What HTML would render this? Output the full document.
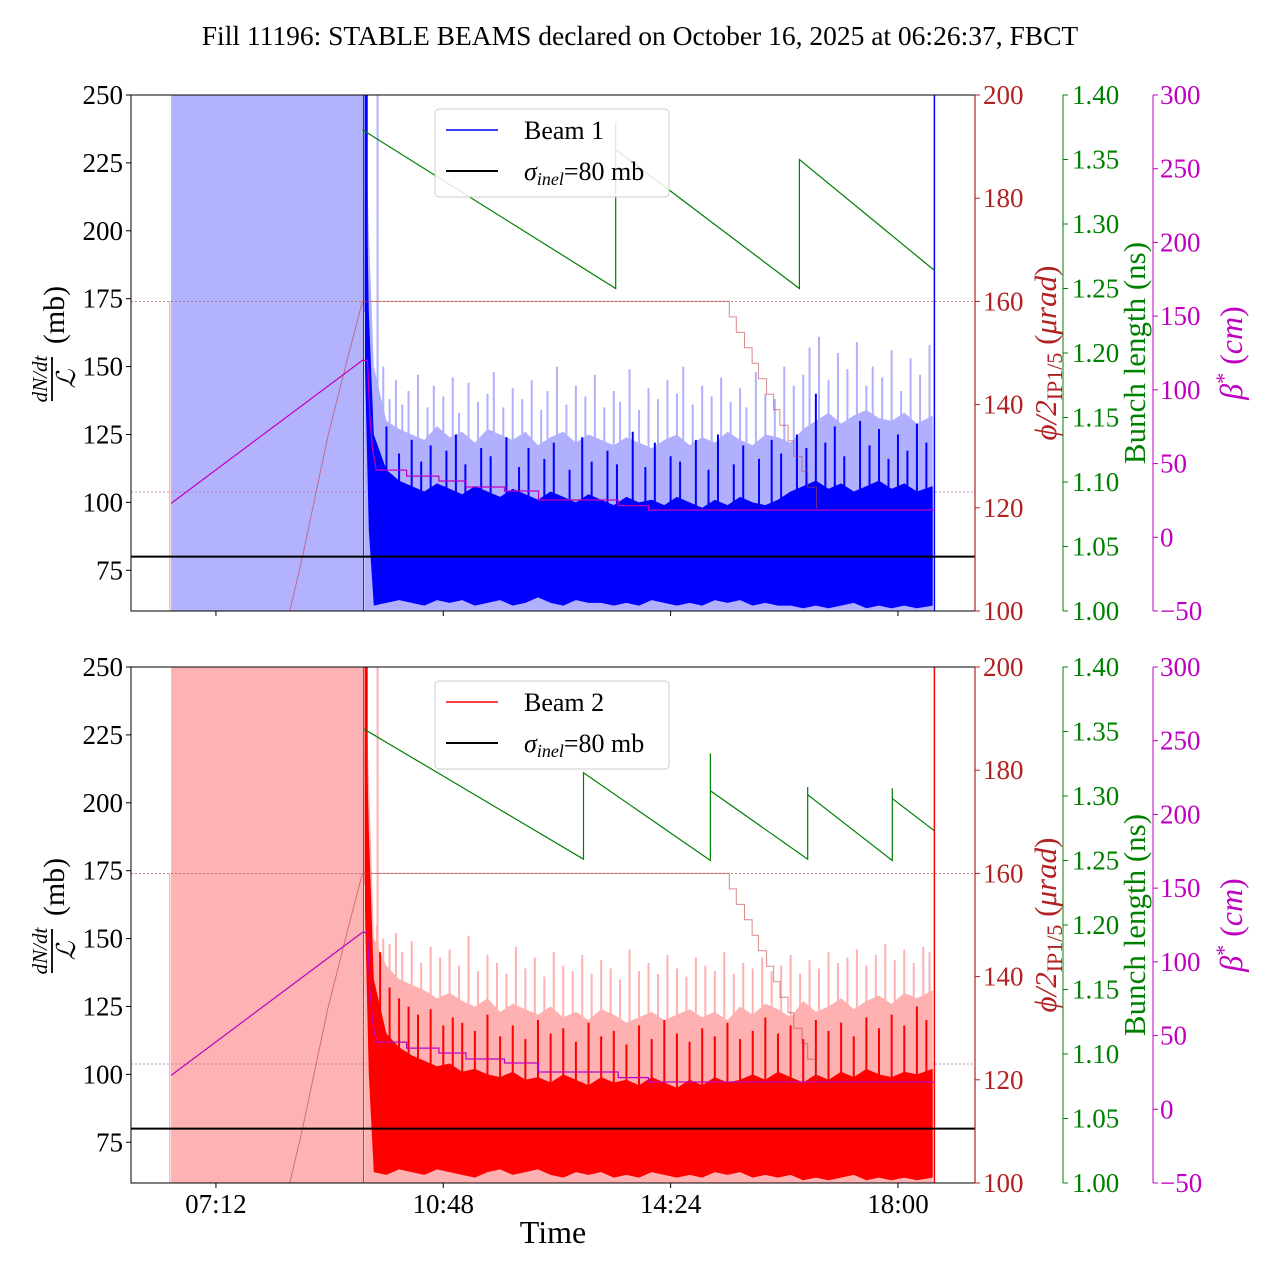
<!DOCTYPE html>
<html><head><meta charset="utf-8">
<style>
html,body{margin:0;padding:0;background:#fff;}
svg{display:block;font-family:"Liberation Serif","DejaVu Serif",serif;}
</style></head>
<body>
<svg id="chart" width="1280" height="1280" viewBox="0 0 1280 1280" xmlns="http://www.w3.org/2000/svg">
<text x="640" y="45" font-size="27.5" text-anchor="middle">Fill 11196: STABLE BEAMS declared on October 16, 2025 at 06:26:37, FBCT</text>
</svg>
<script>
// ---------- data ----------
const tickHours=[7.2,10.8,14.4,18.0];
const tickLabels=['07:12','10:48','14:24','18:00'];
const leftTicks=[75,100,125,150,175,200,225,250];
const redTicks=[100,120,140,160,180,200];
const greenTicks=[1.00,1.05,1.10,1.15,1.20,1.25,1.30,1.35,1.40];
const magTicks=[-50,0,50,100,150,200,250,300];
const shadeStart=6.49, shadeEnd=9.54, beamEnd=18.577, markerT=6.47;
const sigmaInel=[80];
// noise envelopes (mb)
const noiseT=[9.56,9.62,9.7,9.9,10.1,10.3,10.5,10.7,10.9,11.1,11.3,11.5,11.7,11.9,12.1,12.3,12.5,12.7,12.9,13.1,13.3,13.5,13.7,13.9,14.1,14.3,14.5,14.7,14.9,15.1,15.3,15.5,15.7,15.9,16.1,16.3,16.5,16.7,16.9,17.1,17.3,17.5,17.7,17.9,18.1,18.3,18.55];
const b1LightHi=[250,200,150,130,127,125,123,128,124,126,122,127,125,123,126,121,124,126,122,125,123,121,124,122,120,123,125,121,124,122,126,123,121,125,124,122,127,130,133,129,132,134,131,130,133,129,132];
const b1DarkHi=[250,170,125,112,108,106,104,107,105,103,106,104,102,105,103,101,104,102,100,103,101,99,102,100,101,99,102,100,98,101,99,102,100,99,101,104,106,108,105,107,104,106,108,105,107,104,106];
const b1DarkLo=[150,90,62,63,64,63,62,64,63,64,62,63,64,62,63,65,63,62,64,63,63,62,63,62,64,63,62,63,62,64,63,64,62,63,62,62,61,62,61,62,63,61,62,61,62,61,62];
const b1SpikeT=[9.85,9.95,10.05,10.15,10.25,10.4,10.55,10.65,10.8,10.95,11.05,11.2,11.35,11.5,11.6,11.75,11.9,12.05,12.2,12.35,12.45,12.6,12.75,12.9,13.05,13.2,13.35,13.5,13.6,13.75,13.9,14.05,14.2,14.35,14.5,14.6,14.75,14.9,15.05,15.2,15.35,15.5,15.6,15.75,15.9,16.05,16.2,16.35,16.5,16.6,16.75,16.9,17.05,17.2,17.35,17.5,17.6,17.75,17.9,18.05,18.2,18.35,18.5];
const b1SpikeV=[150,138,145,136,141,147,135,143,139,146,133,144,137,140,148,135,142,138,145,134,141,150,136,143,139,147,135,141,137,149,134,142,138,145,140,150,136,143,139,146,137,142,135,148,140,138,150,143,147,157,161,145,155,149,159,143,150,146,156,141,153,147,158];
const b1DSpikeT=[9.9,10.1,10.3,10.45,10.6,10.85,11.0,11.15,11.4,11.55,11.8,12.0,12.15,12.4,12.55,12.8,13.0,13.15,13.4,13.55,13.8,14.0,14.15,14.4,14.55,14.8,15.0,15.15,15.4,15.55,15.8,16.0,16.15,16.4,16.55,16.7,16.85,17.0,17.15,17.4,17.55,17.7,17.85,18.0,18.15,18.3,18.45];
const b1DSpikeV=[128,118,123,115,121,119,125,114,120,117,124,113,120,116,122,112,124,115,119,114,126,113,122,117,115,123,112,125,114,121,116,123,118,125,120,140,122,128,117,130,121,127,116,125,119,129,122];
const b2LightHi=[250,210,150,140,135,133,131,128,130,127,125,128,123,126,124,122,125,121,123,120,124,122,119,121,123,120,122,124,121,123,120,125,122,126,124,121,127,123,125,128,124,127,129,126,130,128,131];
const b2DarkHi=[250,190,135,115,110,107,105,103,104,101,102,100,99,101,98,99,97,100,98,96,99,97,98,96,99,97,95,98,96,99,97,98,100,98,101,99,97,100,98,101,99,102,100,99,101,100,102];
const b2DarkLo=[160,100,64,63,65,64,63,65,64,63,62,64,65,63,64,65,63,62,64,63,64,62,63,62,64,63,62,63,62,64,63,64,62,63,62,63,61,62,61,62,63,61,62,61,62,61,62];
const b2SpikeT=[9.75,9.85,9.95,10.05,10.15,10.3,10.45,10.6,10.75,10.9,11.05,11.2,11.35,11.5,11.65,11.8,11.95,12.1,12.25,12.4,12.55,12.7,12.85,13.0,13.15,13.3,13.45,13.6,13.75,13.9,14.05,14.2,14.35,14.5,14.65,14.8,14.95,15.1,15.25,15.4,15.55,15.7,15.85,16.0,16.15,16.3,16.45,16.6,16.75,16.9,17.05,17.2,17.35,17.5,17.65,17.8,17.95,18.1,18.25,18.4,18.5];
const b2SpikeV=[155,150,148,152,145,149,141,147,143,146,140,151,138,144,141,137,147,139,143,136,145,140,138,144,137,142,139,135,146,138,141,137,144,139,136,143,140,138,145,137,141,139,143,138,140,144,137,142,139,145,141,143,146,140,144,148,142,146,141,147,145];
const b2DSpikeT=[9.8,9.95,10.1,10.25,10.4,10.6,10.8,10.95,11.1,11.3,11.5,11.7,11.9,12.1,12.3,12.5,12.7,12.9,13.1,13.3,13.5,13.7,13.9,14.1,14.3,14.5,14.7,14.9,15.1,15.3,15.5,15.7,15.9,16.1,16.3,16.5,16.7,16.9,17.1,17.3,17.5,17.7,17.9,18.1,18.3,18.45];
const b2DSpikeV=[145,132,128,125,122,124,118,121,119,116,122,114,118,113,120,115,117,112,119,114,116,111,118,113,120,115,112,117,114,119,113,116,121,115,118,113,120,116,119,114,121,117,122,118,125,120];
// phi (urad)
const phiT=[8.37,8.57,8.97,9.29,9.52,15.33,15.33,15.44,15.44,15.57,15.57,15.69,15.69,15.79,15.79,15.92,15.92,16.03,16.03,16.13,16.13,16.26,16.26,16.35,16.35,16.48,16.48,16.57,16.57,16.71,16.71,16.73];
const phiV=[100,110.5,133.7,149.2,160,160,157,157,154,154,151,151,148,148,145,145,142,142,139,139,136,136,133,133,130,130,127,127,124,124,120,120];
// beta* (cm)
const betaT=[6.49,9.52,9.60,9.64,9.68,9.74,9.80,10.22,10.22,10.73,10.73,11.16,11.16,11.77,11.77,12.31,12.31,13.57,13.57,14.05,14.05,18.577];
const betaV=[23,120,120,80,60,45.6,45.6,45.6,41.5,41.5,38.2,38.2,34.1,34.1,31.4,31.4,25.3,25.3,21.5,21.5,18.5,18.5];
// bunch length (ns)
const bl1T=[9.52,13.53,13.53,13.53,13.55,16.44,16.44,18.577];
const bl1V=[1.373,1.250,1.379,1.357,1.357,1.250,1.350,1.264];
const bl2T=[9.54,13.02,13.02,15.03,15.03,15.03,16.57,16.57,16.57,17.91,17.91,17.91,18.577];
const bl2V=[1.352,1.251,1.318,1.250,1.333,1.304,1.251,1.307,1.301,1.250,1.306,1.298,1.273];

// ---------- helpers ----------
const NS='http://www.w3.org/2000/svg';
const svg=document.getElementById('chart');
const X0=131,X1=975,H=516,T0=5.855,PXH=63.15;
function xS(h){return X0+(h-T0)*PXH;}
function mk(tag,attrs,parent){const e=document.createElementNS(NS,tag);for(const k in attrs)e.setAttribute(k,attrs[k]);(parent||svg).appendChild(e);return e;}
function txt(parent,x,y,s,size,fill,anchor,extra){const e=mk('text',Object.assign({x:x,y:y,'font-size':size,fill:fill,'text-anchor':anchor||'start'},extra||{}),parent);e.textContent=s;return e;}
function fmt2(v){return v.toFixed(2);}
function linePath(ts,vs,ys){let d='';const n=Math.min(ts.length,vs.length);for(let i=0;i<n;i++)d+=(i?'L':'M')+xS(ts[i]).toFixed(1)+','+ys(vs[i]).toFixed(1);return d;}
function bandPath(ts,hi,lo,yL){const n=Math.min(ts.length,hi.length,lo.length);let d='';for(let i=0;i<n;i++)d+=(i?'L':'M')+xS(ts[i]).toFixed(1)+','+yL(hi[i]).toFixed(1);for(let i=n-1;i>=0;i--)d+='L'+xS(ts[i]).toFixed(1)+','+yL(lo[i]).toFixed(1);return d+'Z';}

function panel(idx,T,cfg){
  const yL=v=>T+(250-v)/190*H, yR=v=>T+(200-v)/100*H, yG=v=>T+(1.4-v)/0.4*H, yM=v=>T+(300-v)/350*H;
  const g=mk('g',{});
  
  
  const cid='clip'+idx;
  const cp=mk('clipPath',{id:cid},g);mk('rect',{x:X0,y:T,width:X1-X0,height:H},cp);
  const plot=mk('g',{'clip-path':'url(#'+cid+')'},g);
  
  
  const sh=mk('rect',{x:xS(shadeStart),y:T,width:xS(shadeEnd)-xS(shadeStart),height:H,fill:cfg.shade},plot);
  
  
  mk('line',{x1:xS(markerT),x2:xS(markerT),y1:yR(160),y2:T+H,stroke:'#e99',"stroke-width":1},plot);
  const r1=mk('line',{x1:X0,x2:X1,y1:yR(160),y2:yR(160),stroke:'#b06060','stroke-width':0.8,'stroke-dasharray':'2,2'},plot);
  
  
  const r2=mk('line',{x1:X0,x2:X1,y1:yM(30.7),y2:yM(30.7),stroke:'#b070b0','stroke-width':0.8,'stroke-dasharray':'2,2'},plot);
  
  
  const lb=mk('path',{d:bandPath(noiseT,cfg.lightHi,cfg.lightHi.map(()=>55),yL),fill:cfg.light},plot);
  
  
  for(let i=0;i<Math.min(cfg.spT.length,cfg.spV.length);i++){
    const s=mk('line',{x1:xS(cfg.spT[i]),x2:xS(cfg.spT[i]),y1:yL(cfg.spV[i]),y2:yL(110),stroke:cfg.light,'stroke-width':2},plot);
    
    
  }
  mk('line',{x1:xS(9.76),x2:xS(9.76),y1:T,y2:T+H,stroke:cfg.light,'stroke-width':2},plot);
  const db=mk('path',{d:bandPath(noiseT,cfg.darkHi,cfg.darkLo,yL),fill:cfg.dark},plot);
  
  
  for(let i=0;i<Math.min(cfg.dspT.length,cfg.dspV.length);i++){
    const s=mk('line',{x1:xS(cfg.dspT[i]),x2:xS(cfg.dspT[i]),y1:yL(cfg.dspV[i]),y2:yL(92),stroke:cfg.dark,'stroke-width':2},plot);
    
    
  }
  mk('line',{x1:xS(shadeEnd),x2:xS(shadeEnd),y1:T,y2:T+H,stroke:cfg.dark,'stroke-width':1},plot);
  mk('line',{x1:xS(9.58),x2:xS(9.58),y1:T,y2:yL(170),stroke:cfg.dark,'stroke-width':3},plot);
  mk('line',{x1:xS(beamEnd),x2:xS(beamEnd),y1:T,y2:T+H,stroke:cfg.dark,'stroke-width':1.5},plot);
  const ph=mk('path',{d:linePath(phiT,phiV,yR),fill:'none',stroke:'#c04040','stroke-width':1,opacity:0.6},plot);
  
  
  const bt=mk('path',{d:linePath(betaT,betaV,yM),fill:'none',stroke:'#c000c0','stroke-width':1.2},plot);
  
  
  const bl=mk('path',{d:linePath(cfg.blT,cfg.blV,yG),fill:'none',stroke:'#008000','stroke-width':1.2},plot);
  
  
  const si=mk('line',{x1:X0,x2:X1,y1:yL(sigmaInel[0]),y2:yL(sigmaInel[0]),stroke:'#000','stroke-width':2},plot);
  
  
  mk('rect',{x:X0,y:T,width:X1-X0,height:H,fill:'none',stroke:'#000','stroke-width':1},g);
  mk('line',{x1:X1,x2:X1,y1:T,y2:T+H,stroke:'#b22222','stroke-width':1.2},g);
  const la=mk('g',{},g);
  leftTicks.forEach(v=>{const y=yL(v);mk('line',{x1:X0-5,x2:X0,y1:y,y2:y,stroke:'#000'},la);txt(la,X0-8,y+9,String(v),27,'#000','end');});
  const ra=mk('g',{},g);
  redTicks.forEach(v=>{const y=yR(v);mk('line',{x1:X1,x2:X1+5,y1:y,y2:y,stroke:'#b22222'},ra);txt(ra,X1+8,y+9,String(v),27,'#b22222');});
  const ga=mk('g',{},g);
  mk('line',{x1:1063,x2:1063,y1:T,y2:T+H,stroke:'#008000'},ga);
  greenTicks.forEach(v=>{const y=yG(v);mk('line',{x1:1063,x2:1068,y1:y,y2:y,stroke:'#008000'},ga);txt(ga,1072,y+9,fmt2(v),27,'#008000');});
  const ma=mk('g',{},g);
  mk('line',{x1:1153,x2:1153,y1:T,y2:T+H,stroke:'#c000c0'},ma);
  magTicks.forEach(v=>{const y=yM(v);mk('line',{x1:1153,x2:1158,y1:y,y2:y,stroke:'#c000c0'},ma);txt(ma,1160,y+9,v<0?'\u2212'+Math.abs(v):String(v),27,'#c000c0');});
  const xa=mk('g',{},g);
  tickHours.forEach((h,i)=>{const x=xS(h);mk('line',{x1:x,x2:x,y1:T+H,y2:T+H+5,stroke:'#000'},xa);if(cfg.labels)txt(xa,x,T+H+30,tickLabels[i],27,'#000','middle');});
  const cy=T+258;
  const lt=mk('g',{transform:'translate(48,'+cy+') rotate(-90)'},g);
  
  txt(lt,-26,-1,'dN/dt',21,'#000','middle',{'font-style':'italic'});
  mk('line',{x1:-48,x2:-4,y1:4,y2:4,stroke:'#000','stroke-width':1.8},lt);
  txt(lt,-26,27,'\u2112',26,'#000','middle',{'font-style':'italic'});
  txt(lt,38,16,'(mb)',30,'#000','middle');
  const rt=mk('text',{transform:'translate(1056,'+cy+') rotate(-90)','font-size':31,fill:'#b22222','text-anchor':'middle'},g);
  
  rt.innerHTML='<tspan font-style="italic">\u03d5/2</tspan><tspan font-size="22" dy="6">IP1/5</tspan><tspan dy="-6"> (</tspan><tspan font-style="italic">\u03bcrad</tspan>)';
  const gt=txt(g,0,0,'Bunch length (ns)',31,'#008000','middle',{transform:'translate(1145,'+cy+') rotate(-90)'});
  
  const mt=mk('text',{transform:'translate(1242,'+cy+') rotate(-90)','font-size':32,fill:'#c000c0','text-anchor':'middle'},g);
  
  mt.innerHTML='<tspan font-style="italic">\u03b2</tspan><tspan font-size="22" dy="-11">*</tspan><tspan dy="11"> (</tspan><tspan font-style="italic">cm</tspan>)';
  const lg=mk('g',{},g);
  mk('rect',{x:435,y:T+14,width:234,height:88,rx:4,fill:'#fff','fill-opacity':0.85,stroke:'#ccc'},lg);
  const e1=mk('g',{},lg);
  mk('line',{x1:446,x2:498,y1:T+35,y2:T+35,stroke:cfg.dark,'stroke-width':1.5},e1);
  txt(e1,524,T+44,cfg.label,26,'#000');
  const e2=mk('g',{},lg);
  mk('line',{x1:446,x2:498,y1:T+76,y2:T+76,stroke:'#000','stroke-width':2},e2);
  const st=mk('text',{x:524,y:T+85,'font-size':26,fill:'#000'},e2);
  st.innerHTML='<tspan font-style="italic">\u03c3</tspan><tspan font-style="italic" font-size="18" dy="5">inel</tspan><tspan dy="-5">=80 mb</tspan>';
}
panel(1,95,{name:'beam1',label:'Beam 1',shade:'#b3b3fd',light:'#b0b0ff',dark:'#0000ff',lightHi:b1LightHi,darkHi:b1DarkHi,darkLo:b1DarkLo,spT:b1SpikeT,spV:b1SpikeV,dspT:b1DSpikeT,dspV:b1DSpikeV,blT:bl1T,blV:bl1V,labels:false});
panel(2,667,{name:'beam2',label:'Beam 2',shade:'#fdb3b3',light:'#ffb0b0',dark:'#ff0000',lightHi:b2LightHi,darkHi:b2DarkHi,darkLo:b2DarkLo,spT:b2SpikeT,spV:b2SpikeV,dspT:b2DSpikeT,dspV:b2DSpikeV,blT:bl2T,blV:bl2V,labels:true});
const xt=txt(svg,553,1243,'Time',32,'#000','middle');


</script>
</body></html>
